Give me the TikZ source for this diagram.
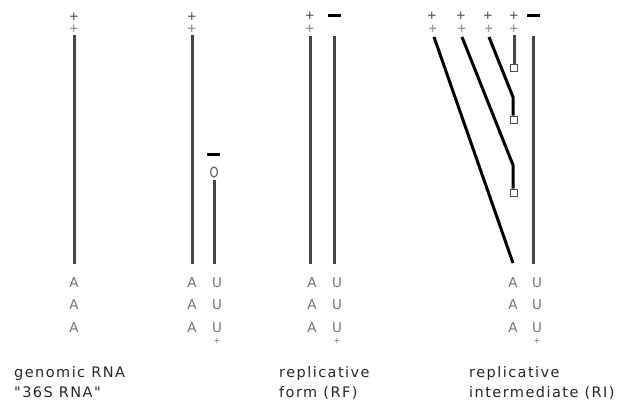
\documentclass[tikz,border=0pt]{standalone}
\usepackage{fontspec}
\setmainfont{DejaVu Sans}
\newfontfamily\lblfont[LetterSpace=10]{DejaVu Sans}
\usetikzlibrary{shapes.geometric}
\tikzset{
  strand/.style={line width=3pt, draw=black!72},
  newstrand/.style={line width=3pt, draw=black, line join=round},
  plussign/.style={font=\fontsize{12}{12}\selectfont, text=black!75, inner sep=0pt},
  plusfaint/.style={font=\fontsize{12}{12}\selectfont, text=black!50, inner sep=0pt},
  plustiny/.style={font=\fontsize{8}{8}\selectfont, text=black!55, inner sep=0pt},
  basetxt/.style={font=\fontsize{13.5}{13.5}\selectfont, text=black!55, inner sep=0pt},
  minusbar/.style={fill=black, minimum width=13pt, minimum height=3pt, inner sep=0pt},
  endsq/.style={draw=black!70, line width=1.2pt, fill=white, minimum size=7.5pt, inner sep=0pt},
  endoval/.style={ellipse, draw=black!60, line width=1.2pt, minimum width=7pt, minimum height=10pt, inner sep=0pt},
  lbl/.style={font=\lblfont\fontsize{14.5}{14.5}\selectfont, text=black!85, anchor=base west, inner sep=0pt}
}
\begin{document}
\begin{tikzpicture}[x=1pt,y=-1pt]
\useasboundingbox (0,0) rectangle (618,403);

% ---------- genomic RNA ----------
\node[plussign] (g+) at (74,17) {+};
\node[plusfaint] (g++) at (74,29) {+};
\coordinate (g1t) at (74,35);
\coordinate (g1b) at (74,264);
\draw[strand] (g1t) -- (g1b);
\node[basetxt] (gA1) at (74,283) {A};
\node[basetxt] (gA2) at (74,305) {A};
\node[basetxt] (gA3) at (74,328) {A};
\node[lbl] (glab1) at (14,377) {genomic RNA};
\node[lbl] (glab2) at (14,397) {"36S RNA"};

% ---------- second column ----------
\node[plussign] (b+) at (192,17) {+};
\node[plusfaint] (b++) at (192,29) {+};
\coordinate (b1t) at (192,35);
\coordinate (b1b) at (192,264);
\draw[strand] (b1t) -- (b1b);
\node[minusbar] (bm) at (213,155) {};
\node[endoval] (bo) at (214,172) {};
\coordinate (b2t) at (214,180);
\coordinate (b2b) at (214,264);
\draw[strand] (b2t) -- (b2b);
\node[basetxt] (bA1) at (192,283) {A};
\node[basetxt] (bA2) at (192,305) {A};
\node[basetxt] (bA3) at (192,328) {A};
\node[basetxt] (bU1) at (217,283) {U};
\node[basetxt] (bU2) at (217,305) {U};
\node[basetxt] (bU3) at (217,328) {U};
\node[plustiny] (bp) at (217,341) {+};

% ---------- replicative form ----------
\node[plussign] (r+) at (310,16) {+};
\node[plusfaint] (r++) at (310,29) {+};
\node[minusbar] (rm) at (334,16) {};
\coordinate (r1t) at (310,36);
\coordinate (r1b) at (310,264);
\coordinate (r2t) at (334,36);
\coordinate (r2b) at (334,264);
\draw[strand] (r1t) -- (r1b);
\draw[strand] (r2t) -- (r2b);
\node[basetxt] (rA1) at (312,283) {A};
\node[basetxt] (rA2) at (312,305) {A};
\node[basetxt] (rA3) at (312,328) {A};
\node[basetxt] (rU1) at (337,283) {U};
\node[basetxt] (rU2) at (337,305) {U};
\node[basetxt] (rU3) at (337,328) {U};
\node[plustiny] (rp) at (337,341) {+};
\node[lbl] (rlab1) at (279,377) {replicative};
\node[lbl] (rlab2) at (279,397) {form (RF)};

% ---------- replicative intermediate ----------
\node[plussign] (i1+) at (432,16) {+};
\node[plussign] (i2+) at (461,16) {+};
\node[plussign] (i3+) at (488,16) {+};
\node[plussign] (i4+) at (514,16) {+};
\node[plusfaint] (i1++) at (433,29) {+};
\node[plusfaint] (i2++) at (462,29) {+};
\node[plusfaint] (i3++) at (489,29) {+};
\node[plusfaint] (i4++) at (514,29) {+};
\node[minusbar] (im) at (533,16) {};
\coordinate (it) at (533,36);
\coordinate (ib) at (533,264);
\draw[strand] (it) -- (ib);
% strand 1 (complete)
\coordinate (s1a) at (434,37);
\coordinate (s1b) at (513,263);
\draw[newstrand] (s1a) -- (s1b);
% strand 2
\coordinate (s2a) at (462,37);
\coordinate (s2b) at (513,165);
\node[endsq] (q2) at (514,193) {};
\draw[newstrand] (s2a) -- (s2b) -- (s2b |- q2.north);
% strand 3
\coordinate (s3a) at (489,37);
\coordinate (s3b) at (513,97);
\node[endsq] (q3) at (514,120) {};
\draw[newstrand] (s3a) -- (s3b) -- (s3b |- q3.north);
% strand 4
\coordinate (s4a) at (514,35);
\node[endsq] (q4) at (514,68) {};
\draw[strand] (s4a) -- (q4.north);
\node[basetxt] (iA1) at (513,283) {A};
\node[basetxt] (iA2) at (513,305) {A};
\node[basetxt] (iA3) at (513,328) {A};
\node[basetxt] (iU1) at (537,283) {U};
\node[basetxt] (iU2) at (537,305) {U};
\node[basetxt] (iU3) at (537,328) {U};
\node[plustiny] (ip) at (537,341) {+};
\node[lbl] (ilab1) at (469,377) {replicative};
\node[lbl] (ilab2) at (469,397) {intermediate (RI)};
\end{tikzpicture}
\end{document}
